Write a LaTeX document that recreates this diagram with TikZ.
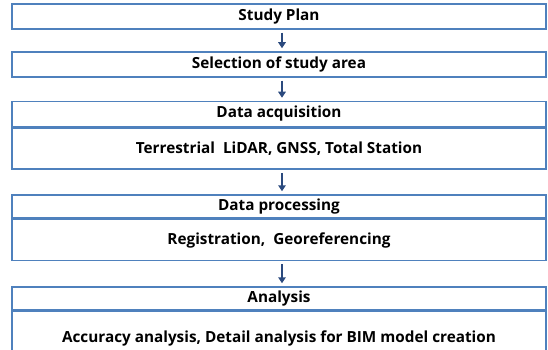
\documentclass[tikz,border=0pt]{standalone}
\usepackage{fontspec}
\setmainfont{Open Sans}
\usepackage{tikz}
\usetikzlibrary{positioning, arrows.meta}
\definecolor{colorBox}{HTML}{4F81BD}
\definecolor{colorArrow}{HTML}{2B4A7E}

\tikzset{
    stage/.style={draw=colorBox, line width=1.5pt, minimum width=534pt, minimum height=25pt,
        inner sep=0pt, font=\fontsize{15.3}{17}\selectfont\bfseries},
    stagebody/.style={stage, minimum height=41pt},
    flow/.style={draw=colorArrow, line width=2pt, -{Triangle[width=7.5pt,length=6pt]},
        shorten <=3pt, shorten >=3pt}
}

\begin{document}
\begin{tikzpicture}[x=1pt,y=-1pt]
        \useasboundingbox (0,0) rectangle (548,350);
        \node[stage] (plan) at (279,16.5) {Study Plan};
        \node[stage] (area) at (279,64.5) {Selection of study area};
        \node[stage] (acq) at (279,114) {Data acquisition};
        \node[stagebody, below=0pt of acq] (acqbody) {Terrestrial\ \ LiDAR, GNSS, Total Station};
        \node[stage, minimum height=23pt] (proc) at (279,206.5) {Data processing};
        \node[stagebody, below=0pt of proc] (procbody) {Registration,\ \ Georeferencing};
        \node[stage, minimum height=23pt] (ana) at (279,298.5) {Analysis};
        \node[stagebody, minimum height=60pt, below=0pt of ana] (anabody) {\raisebox{9pt}{Accuracy analysis, Detail analysis for BIM model creation}};
        \draw[flow] ([xshift=3pt]plan.south) -- ([xshift=3pt]area.north);
        \draw[flow] ([xshift=3pt]area.south) -- ([xshift=3pt]acq.north);
        \draw[flow] ([xshift=3pt]acqbody.south) -- ([xshift=3pt]proc.north);
        \draw[flow] ([xshift=3pt]procbody.south) -- ([xshift=3pt]ana.north);
    \end{tikzpicture}
\end{document}
